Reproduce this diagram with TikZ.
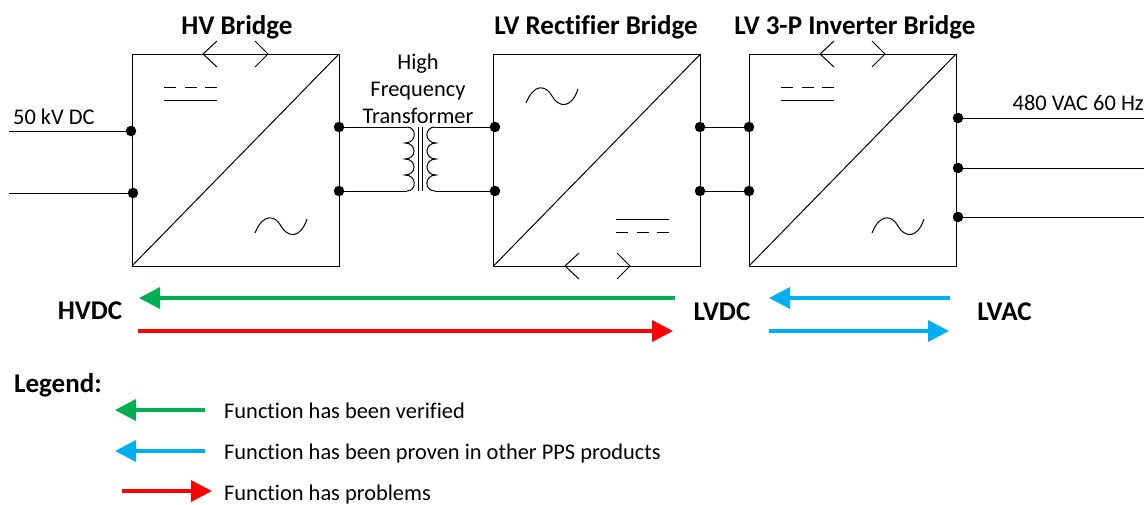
\documentclass[tikz,border=0pt]{standalone}
\usepackage{fontspec}
\setmainfont[Ligatures=NoCommon]{Carlito}
\usetikzlibrary{arrows.meta}
\definecolor{okgreen}{HTML}{00B050}
\definecolor{okblue}{HTML}{00B0F0}
\tikzset{
  bridge/.style={draw, line width=1pt, inner sep=0pt, outer sep=0pt, minimum width=207pt, minimum height=212pt},
  dot/.style={circle, fill=black, inner sep=0pt, outer sep=0pt, minimum size=10.5pt},
  wire/.style={line width=1pt},
  flow/.style={line width=3.5pt, -{Triangle[length=21pt,width=21pt]}},
  title/.style={font=\fontsize{27}{30}\selectfont\bfseries, inner sep=0pt, anchor=base},
  plain/.style={font=\fontsize{22.4}{26}\selectfont, inner sep=0pt, anchor=base}
}
\begin{document}
\begin{tikzpicture}[x=1pt, y=-1pt, line cap=butt]
  \useasboundingbox (0,0) rectangle (1147,504);
  % ---------- 1. bridges ----------
  \node[bridge] (hv) at (235.5,160) {};
  \node[bridge] (rect) at (597,160) {};
  \node[bridge] (inv) at (852.5,160) {};
  \foreach \b in {hv,rect,inv}
    {\draw[wire] (\b.south west) -- (\b.north east);}
  \node[title] (hvname) at (237,34.5) {HV Bridge};
  \node[title] (rectname) at (596,34.5) {LV Rectifier Bridge};
  \node[title] (invname) at (855,34.5) {LV 3-P Inverter Bridge};
  % ---------- chevrons on the box edges ----------
  \foreach \x/\y in {217/54, 579/266, 834/54} {
    \draw[wire] (\x,\y-13) -- (\x-14,\y) -- (\x,\y+13);
    \draw[wire] (\x+38,\y-13) -- (\x+51,\y) -- (\x+38,\y+13);
  }
  % ---------- dc and ac marks ----------
  \foreach \x/\y in {164/87, 781/87} {
    \draw[wire, dash pattern=on 12pt off 8.5pt] (\x,\y) -- (\x+53,\y);
    \draw[wire] (\x,\y+13) -- (\x+53,\y+13);
  }
  \draw[wire] (616,219) -- (669,219);
  \draw[wire, dash pattern=on 12pt off 8.5pt] (616,232) -- (669,232);
  \foreach \x/\y in {255/233, 526/103, 872/233}
    {\draw[wire] (\x,\y) .. controls (\x+8,\y-20) and (\x+20,\y-18) .. (\x+26,\y-7)
       .. controls (\x+32,\y+4) and (\x+45,\y+7) .. (\x+52,\y-14);}
  % ---------- 2. terminals ----------
  \node[dot] (hvinA) at (131,131) {};
  \node[dot] (hvinB) at (133,193) {};
  \node[dot] (hvoutA) at (339,127) {};
  \node[dot] (hvoutB) at (339,191) {};
  \node[dot] (rectinA) at (495,127) {};
  \node[dot] (rectinB) at (495,191) {};
  \node[dot] (rectoutA) at (700,127) {};
  \node[dot] (rectoutB) at (700,191) {};
  \node[dot] (invinA) at (749,127) {};
  \node[dot] (invinB) at (749,191) {};
  \node[dot] (acA) at (958,118) {};
  \node[dot] (acB) at (958,168) {};
  \node[dot] (acC) at (958,217) {};
  % ---------- free wire ends ----------
  \coordinate (srcA) at (9,131);
  \coordinate (srcB) at (9,193);
  \coordinate (loadA) at (1144,118);
  \coordinate (loadB) at (1144,168);
  \coordinate (loadC) at (1144,217);
  \draw[wire] (srcA) -- (hvinA);
  \draw[wire] (srcB) -- (hvinB);
  \draw[wire] (rectoutA) -- (invinA);
  \draw[wire] (rectoutB) -- (invinB);
  \draw[wire] (acA) -- (loadA);
  \draw[wire] (acB) -- (loadB);
  \draw[wire] (acC) -- (loadC);
  % ---------- 3. transformer ----------
  \coordinate (priA) at (407,127);
  \coordinate (priB) at (407,191);
  \coordinate (secA) at (435,127);
  \coordinate (secB) at (435,191);
  \draw[wire] (hvoutA) -- (priA);
  \draw[wire] (hvoutB) -- (priB);
  \draw[wire] (rectinA) -- (secA);
  \draw[wire] (rectinB) -- (secB);
  \draw[wire] (priA) .. controls (417,127) and (417,143) .. (405,143)
    .. controls (417,143) and (417,159) .. (405,159)
    .. controls (417,159) and (417,175) .. (405,175)
    .. controls (417,175) and (417,191) .. (priB);
  \draw[wire] (secA) .. controls (424,127) and (424,143) .. (436,143)
    .. controls (424,143) and (424,159) .. (436,159)
    .. controls (424,159) and (424,175) .. (436,175)
    .. controls (424,175) and (424,191) .. (secB);
  \draw[wire] (418,127) -- (418,191);
  \draw[wire] (422.5,127) -- (422.5,191);
  % ---------- wire labels ----------
  \node[plain] (high) at (418,69) {High};
  \node[plain] (freq) at (418,96) {Frequency};
  \node[plain] (trans) at (418,123) {Transformer};
  \node[plain, anchor=base west] (src) at (13,124) {50 kV DC};
  \node[plain, anchor=base east] (load) at (1144,110) {480 VAC 60 Hz};
  % ---------- 4. power flow arrows ----------
  \node[title] (hvdc) at (90,319) {HVDC};
  \node[title] (lvdc) at (722,320) {LVDC};
  \node[title] (lvac) at (1004.5,320) {LVAC};
  \coordinate (gA) at (675,298);
  \coordinate (gB) at (139,298);
  \coordinate (rA) at (138,331);
  \coordinate (rB) at (673,331);
  \coordinate (bA) at (950,298);
  \coordinate (bB) at (769,298);
  \coordinate (bC) at (769,331);
  \coordinate (bD) at (949,331);
  \draw[flow, okgreen] (gA) -- (gB);
  \draw[flow, red] (rA) -- (rB);
  \draw[flow, okblue] (bA) -- (bB);
  \draw[flow, okblue] (bC) -- (bD);
  % ---------- 5. legend ----------
  \node[title, anchor=base west] (legend) at (14,392) {Legend:};
  \node[plain, anchor=base west] (verified) at (224,418) {Function has been verified};
  \node[plain, anchor=base west] (proven) at (224,459) {Function has been proven in other PPS products};
  \node[plain, anchor=base west] (problems) at (224,500) {Function has problems};
  \coordinate (kgA) at (205,410);
  \coordinate (kgB) at (115,410);
  \coordinate (kbA) at (205,451);
  \coordinate (kbB) at (115,451);
  \coordinate (krA) at (122,491);
  \coordinate (krB) at (212,491);
  \draw[flow, okgreen] (kgA) -- (kgB);
  \draw[flow, okblue] (kbA) -- (kbB);
  \draw[flow, red] (krA) -- (krB);
\end{tikzpicture}
\end{document}
